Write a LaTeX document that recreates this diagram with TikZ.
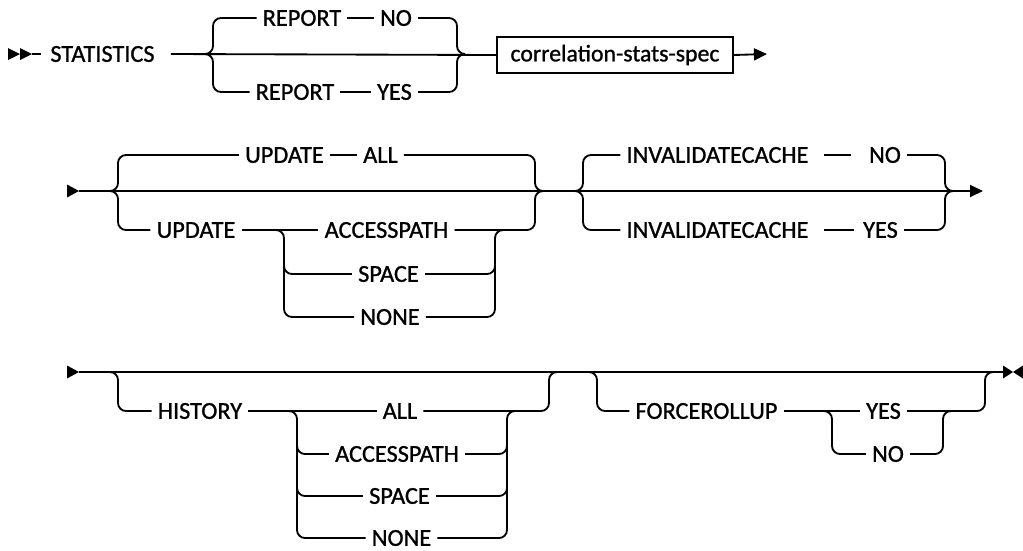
\documentclass[tikz,border=0pt]{standalone}
\usepackage{fontspec}
\setmainfont{Carlito}[FakeBold=1]
\usetikzlibrary{arrows.meta}
\begin{document}
\begin{tikzpicture}[x=1pt,y=-1pt,
  ln/.style={line width=1.85pt, rounded corners=8pt, line join=round},
  kw/.style={inner ysep=0pt, inner xsep=6pt, font=\fontsize{24.3}{27}\selectfont, text height=15.6pt, text depth=0pt, anchor=center},
  specbox/.style={draw, line width=1.85pt, minimum width=236pt, minimum height=36pt, inner sep=0pt, font=\fontsize{23.8}{27}\selectfont},
  tip/.style={-{Triangle[length=13pt,width=12pt]}}]
\useasboundingbox (0,0) rectangle (1023,550);

% ---------------- Row 1 ----------------
\coordinate (st1) at (32,54);
\fill (8,48) -- (20,54) -- (8,60) -- cycle;
\fill (20,48) -- (st1) -- (20,60) -- cycle;
\node[kw] (stat) at (102.5,54) {STATISTICS};
\draw[ln] (st1) -- ([xshift=-3pt]stat.west);
\coordinate (b1l) at (205,54);
\coordinate (b1r) at (465,54);
\node[kw] (r1a) at (302,18) {REPORT};
\node[kw] (r1b) at (396,18) {NO};
\node[kw] (r2a) at (295,92) {REPORT};
\node[kw] (r2b) at (394.5,92) {YES};
\node[specbox] (spec) at (615,55) {correlation-stats-spec};
\coordinate (e1) at (767,54);
\draw[ln] ([xshift=10pt]stat.east) -- (spec.west);
\draw[ln] (b1l) -| (213,18) -- (r1a.west);
\draw[ln] (r1a.east) -- (r1b.west);
\draw[ln] (r1b.east) -| (457,54) -- (b1r);
\draw[ln] (b1l) -| (213,92) -- (r2a.west);
\draw[ln] (r2a.east) -- (r2b.west);
\draw[ln] (r2b.east) -| (457,54) -- (b1r);
\draw[ln,tip] (spec.east) -- (e1);

% ---------------- Row 2 ----------------
\coordinate (st2) at (79,191);
\fill (67,184.5) -- (st2) -- (67,197.5) -- cycle;
\coordinate (e2) at (983,191);
\draw[ln,tip] (st2) -- (e2);
\coordinate (b2l) at (110,191);
\coordinate (b2r) at (543,191);
\coordinate (b3l) at (575,191);
\coordinate (b3r) at (953,191);
\node[kw] (u1a) at (284.5,155) {UPDATE};
\node[kw] (u1b) at (380.5,155) {ALL};
\node[kw] (u2a) at (196,230) {UPDATE};
\node[kw] (u2b) at (386.5,230) {ACCESSPATH};
\node[kw] (u2c) at (388.5,274) {SPACE};
\node[kw] (u2d) at (390,317) {NONE};
\coordinate (k2l) at (276,230);
\coordinate (k2r) at (503,230);
\draw[ln] (b2l) -| (118,155) -- (u1a.west);
\draw[ln] (u1a.east) -- (u1b.west);
\draw[ln] (u1b.east) -| (535,191) -- (b2r);
\draw[ln] (b2l) -| (118,230) -- (u2a.west);
\draw[ln] (u2a.east) -- (u2b.west);
\draw[ln] (u2b.east) -| (535,191) -- (b2r);
\draw[ln] (k2l) -| (284,317) -- (u2d.west);
\draw[ln] (284,255) |- (u2c.west);
\draw[ln] (u2d.east) -| (495,230) -- (k2r);
\draw[ln] (u2c.east) -| (495,255);

\node[kw] (i1a) at (717.5,155) {INVALIDATECACHE};
\node[kw] (i1b) at (885,155) {NO};
\node[kw] (i2a) at (717.5,230) {INVALIDATECACHE};
\node[kw] (i2b) at (880.5,230) {YES};
\draw[ln] (b3l) -| (583,155) -- (i1a.west);
\draw[ln] ([xshift=9pt]i1a.east) -- ([xshift=-12pt]i1b.west);
\draw[ln] (i1b.east) -| (945,191) -- (b3r);
\draw[ln] (b3l) -| (583,230) -- (i2a.west);
\draw[ln] ([xshift=9pt]i2a.east) -- ([xshift=-3pt]i2b.west);
\draw[ln] (i2b.east) -| (945,191) -- (b3r);

% ---------------- Row 3 ----------------
\coordinate (st3) at (79,372);
\fill (67,365.5) -- (st3) -- (67,378.5) -- cycle;
\coordinate (e3) at (1003,372);
\coordinate (e3m) at (1013,372);
\draw[ln] (st3) -- (e3);
\fill (1003,365.5) -- (e3m) -- (1003,378.5) -- cycle;
\fill (1023,365.5) -- (e3m) -- (1023,378.5) -- cycle;

\coordinate (b4l) at (110,372);
\coordinate (b4r) at (557,372);
\coordinate (k3l) at (289,411);
\coordinate (k3r) at (515,411);
\node[kw] (h) at (200,411) {HISTORY};
\node[kw] (h1) at (400,411) {ALL};
\node[kw] (h2) at (397,454) {ACCESSPATH};
\node[kw] (h3) at (399.5,496) {SPACE};
\node[kw] (h4) at (401.5,538) {NONE};
\draw[ln] (b4l) -| (118,411) -- (h.west);
\draw[ln] (h.east) -- (h1.west);
\draw[ln] (h1.east) -| (549,372) -- (b4r);
\draw[ln] (k3l) -| (297,538) -- (h4.west);
\draw[ln] (297,430) |- (h2.west);
\draw[ln] (297,475) |- (h3.west);
\draw[ln] (h4.east) -| (507,411) -- (k3r);
\draw[ln] (h2.east) -| (507,430);
\draw[ln] (h3.east) -| (507,475);

\coordinate (b5l) at (589,372);
\coordinate (b5r) at (993,372);
\coordinate (k4l) at (824,411);
\coordinate (k4r) at (951,411);
\node[kw] (f) at (706.5,411) {FORCEROLLUP};
\node[kw] (f1) at (883.5,411) {YES};
\node[kw] (f2) at (888,454) {NO};
\draw[ln] (b5l) -| (597,411) -- (f.west);
\draw[ln] (f.east) -- (f1.west);
\draw[ln] (f1.east) -| (985,372) -- (b5r);
\draw[ln] (k4l) -| (832,454) -- (f2.west);
\draw[ln] (f2.east) -| (943,411) -- (k4r);
\end{tikzpicture}
\end{document}
